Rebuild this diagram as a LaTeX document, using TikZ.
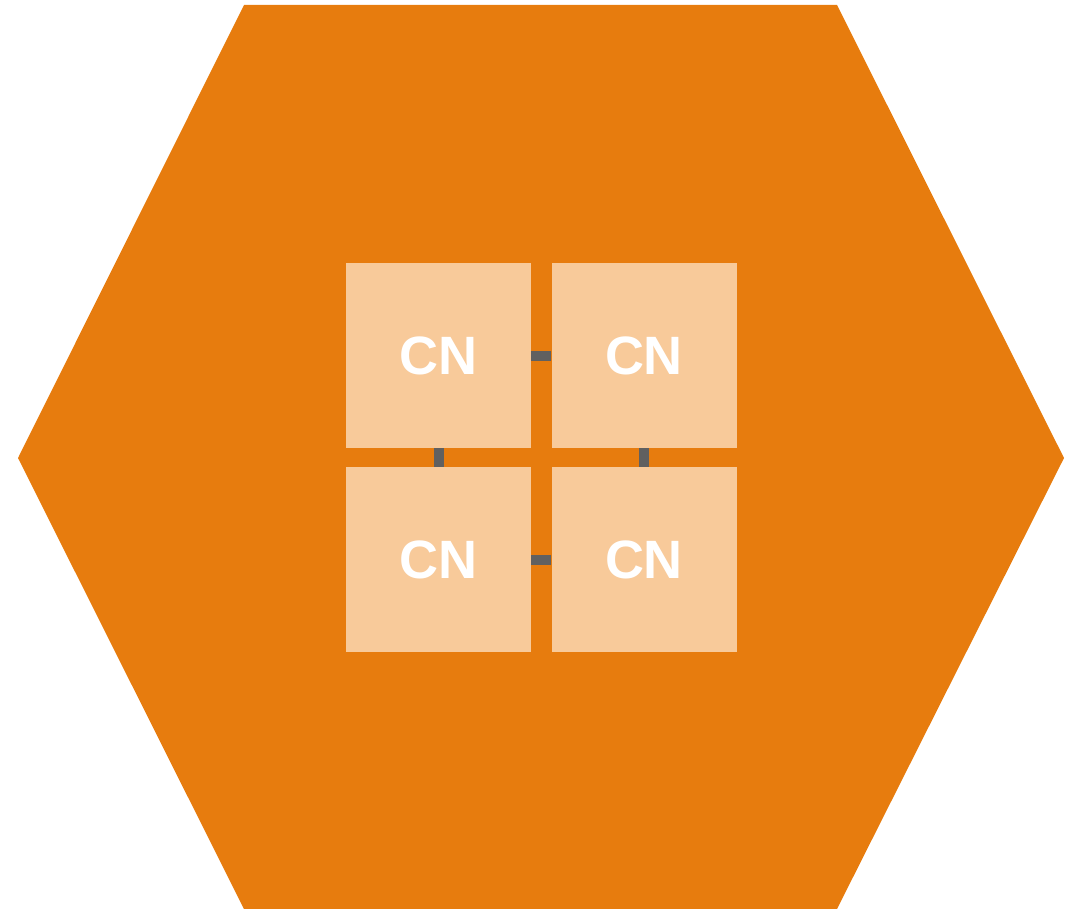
\documentclass[tikz,border=0pt]{standalone}
\usepackage{fontspec}
\setmainfont{Liberation Sans}
\definecolor{hexorange}{HTML}{E77C0E}
\definecolor{cnfill}{HTML}{F8CA9A}
\definecolor{linkgray}{HTML}{606060}
\begin{document}
\begin{tikzpicture}[x=1pt,y=-1pt,
  cnbox/.style={fill=cnfill,draw=none,minimum width=185pt,minimum height=185pt,inner sep=0pt,
    font=\fontsize{54}{54}\selectfont\bfseries,text=white},
  link/.style={draw=linkgray,line width=10pt}]
\useasboundingbox (0,0) rectangle (1078,909);
% cluster hexagon
\fill[hexorange] (244,5) -- (837,5) -- (1064,458) -- (837,909) -- (244,909) -- (18,458) -- cycle;
% links between compute nodes
\node[cnbox] (a) at (438.5,355.5) {CN};
\node[cnbox] (b) at (644,355.5) {CN};
\node[cnbox] (c) at (438.5,559.5) {CN};
\node[cnbox] (d) at (644,559.5) {CN};
\draw[link] (a.east) -- (b.west);
\draw[link] (c.east) -- (d.west);
\draw[link] (a.south) -- (c.north);
\draw[link] (b.south) -- (d.north);
\end{tikzpicture}
\end{document}
